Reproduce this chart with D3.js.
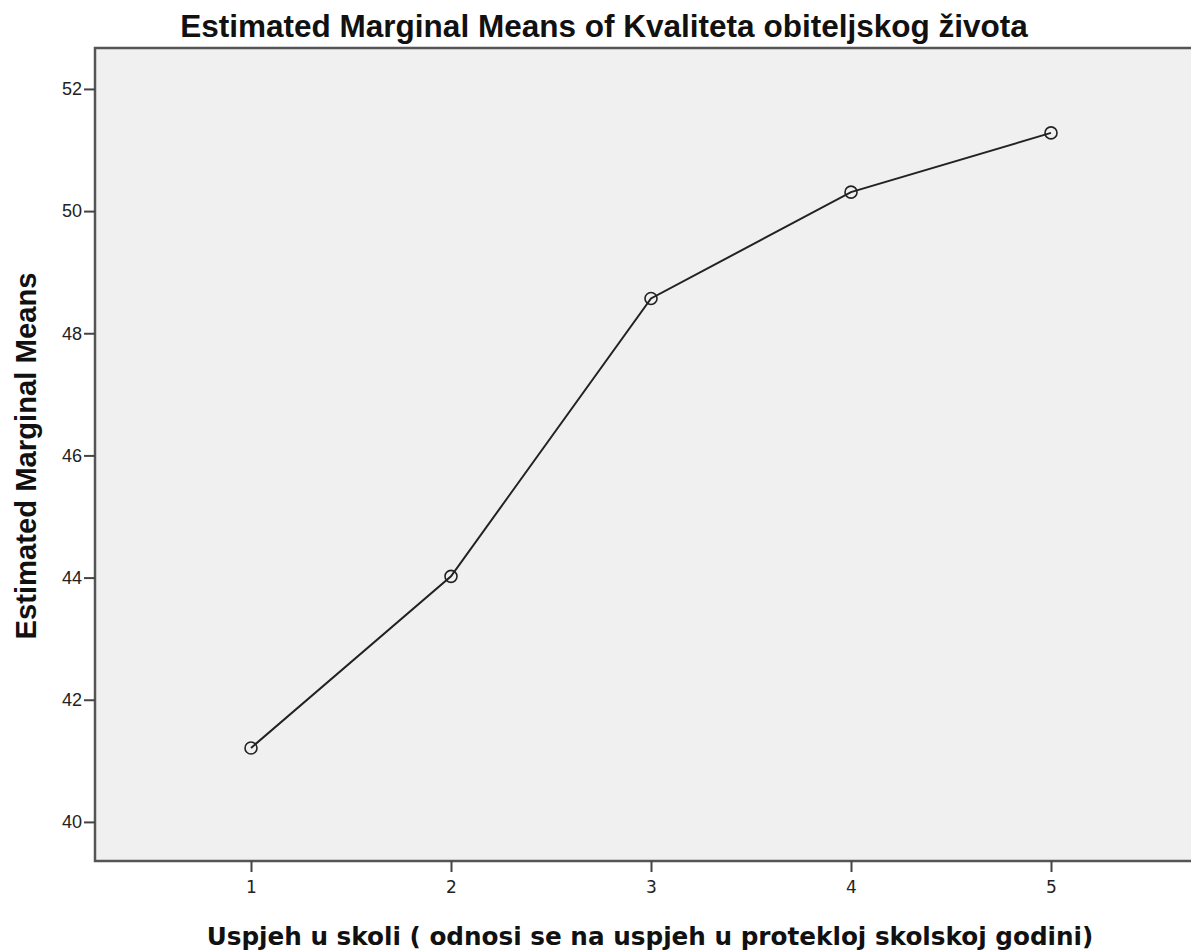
<!DOCTYPE html>
<html>
<head>
  <script src="https://d3js.org/d3.v7.min.js"></script>
  <style>
    body { margin: 0; background: #fff; font-family: Arial, "Liberation Sans", sans-serif; }
  </style>
</head>
<body>
  <div id="chart"></div>
  <script>
    // data
    const categories = [1, 2, 3, 4, 5];
    const means = [41.21, 44.02, 48.57, 50.31, 51.28];
    const yTicks = [40, 42, 44, 46, 48, 50, 52];

    const W = 1191, H = 952;
    const margin = { top: 48, right: 0, bottom: 91, left: 95 };
    const width = W - margin.left - margin.right;
    const height = H - margin.top - margin.bottom;

    const svg = d3.select("#chart").append("svg")
      .attr("width", W)
      .attr("height", H);

    const g = svg.append("g")
      .attr("transform", `translate(${margin.left},${margin.top})`);

    const x = d3.scaleLinear().domain([0.22, 5.7]).range([0, width]);
    const y = d3.scaleLinear().domain([39.36, 52.67]).range([height, 0]);

    g.append("rect")
      .attr("width", width)
      .attr("height", height)
      .attr("fill", "#f0f0f0");

    // frame: left, top, bottom
    g.append("path")
      .attr("d", `M${width},0H0V${height}H${width}`)
      .attr("fill", "none")
      .attr("stroke", "#555")
      .attr("stroke-width", 2.5);

    const xAxis = g.append("g")
      .attr("transform", `translate(0,${height})`)
      .call(d3.axisBottom(x).tickValues(categories).tickSize(11).tickPadding(9).tickFormat(d3.format("d")));
    xAxis.select(".domain").remove();
    xAxis.selectAll(".tick line").attr("stroke", "#444").attr("stroke-width", 2);
    xAxis.selectAll(".tick text")
      .attr("font-family", "'DejaVu Sans', sans-serif")
      .attr("font-size", 17)
      .attr("fill", "#222");

    const yAxis = g.append("g")
      .call(d3.axisLeft(y).tickValues(yTicks).tickSize(11).tickPadding(2).tickFormat(d3.format("d")));
    yAxis.select(".domain").remove();
    yAxis.selectAll(".tick line").attr("stroke", "#444").attr("stroke-width", 2);
    yAxis.selectAll(".tick text")
      .attr("font-family", "Arial, 'Liberation Sans', sans-serif")
      .attr("font-size", 18)
      .attr("fill", "#222");

    const pts = categories.map((c, i) => [c, means[i]]);

    g.append("path")
      .datum(pts)
      .attr("fill", "none")
      .attr("stroke", "#222")
      .attr("stroke-width", 2)
      .attr("d", d3.line().x(d => x(d[0])).y(d => y(d[1])));

    g.selectAll("circle.pt")
      .data(pts)
      .enter().append("circle")
      .attr("class", "pt")
      .attr("cx", d => x(d[0]))
      .attr("cy", d => y(d[1]))
      .attr("r", 6)
      .attr("fill", "none")
      .attr("stroke", "#222")
      .attr("stroke-width", 1.6);

    // fit a label's font size so it spans the given width
    function fitText(sel, target) {
      const size = +sel.attr("font-size");
      const len = sel.node().getComputedTextLength();
      sel.attr("font-size", (size * target / len).toFixed(2));
    }

    const title = svg.append("text")
      .attr("x", 604)
      .attr("y", 37)
      .attr("text-anchor", "middle")
      .attr("font-size", 28)
      .attr("font-weight", "bold")
      .attr("fill", "#111")
      .text("Estimated Marginal Means of Kvaliteta obiteljskog života");
    fitText(title, 848);

    const yLabel = svg.append("text")
      .attr("transform", `translate(36,${456}) rotate(-90)`)
      .attr("text-anchor", "middle")
      .attr("font-size", 22)
      .attr("font-weight", "bold")
      .attr("fill", "#111")
      .text("Estimated Marginal Means");
    fitText(yLabel, 367);

    const xLabel = svg.append("text")
      .attr("x", 650)
      .attr("y", 945)
      .attr("text-anchor", "middle")
      .attr("font-family", "'DejaVu Sans', sans-serif")
      .attr("font-size", 24)
      .attr("font-weight", "bold")
      .attr("fill", "#111")
      .text("Uspjeh u skoli ( odnosi se na uspjeh u protekloj skolskoj godini)");
    fitText(xLabel, 887);
  </script>
</body>
</html>
